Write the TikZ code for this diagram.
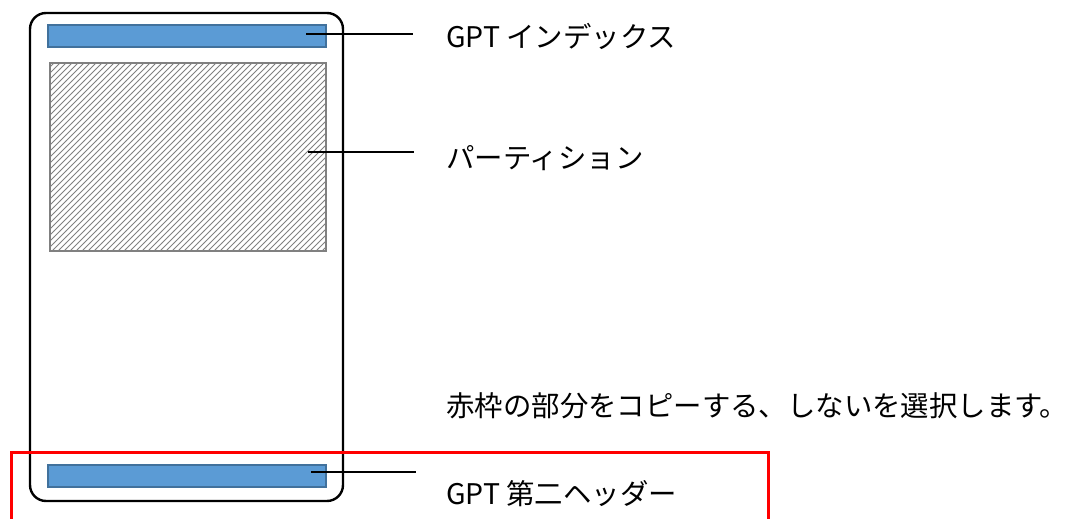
\documentclass[tikz,border=0pt]{standalone}
\usepackage{fontspec}
\setmainfont{Noto Sans CJK JP}
\usepackage{xcolor}
\usetikzlibrary{patterns}

\definecolor{barfill}{HTML}{5B9BD5}
\definecolor{barline}{HTML}{41719C}

\begin{document}
\begin{tikzpicture}[x=0.5pt,y=-0.5pt,
  bar/.style={rectangle, draw=barline, fill=barfill, line width=1pt, minimum width=139pt, minimum height=11pt, inner sep=0pt},
  part/.style={rectangle, draw=gray, line width=1pt, pattern=north east lines, pattern color=gray, minimum width=138pt, minimum height=94pt, inner sep=0pt},
  lbl/.style={anchor=west, inner sep=0pt, font=\fontsize{14.2pt}{16pt}\selectfont},
  callout/.style={draw=black, line width=0.6pt}]
\useasboundingbox (0,0) rectangle (1071,519);

\node[draw=black, line width=1.2pt, rounded corners=8pt, minimum width=156.5pt, minimum height=244pt](Disk) at (186.5,257) {};
\node[bar](Idx) at (187,36) {};
\node[part](Part) at (188,157) {};
\node[bar](Hdr) at (187,476) {};

\node[lbl](IdxL) at (446,36) {GPT インデックス};
\node[lbl](PartL) at (446,158) {パーティション};
\node[lbl](NoteL) at (446,406) {赤枠の部分をコピーする、しないを選択します。};
\node[lbl](HdrL) at (446,494) {GPT 第二ヘッダー};

\coordinate (IdxP) at (306,34);
\coordinate (IdxE) at (413,34);
	\draw[callout] (IdxP) -- (IdxE);
\coordinate (PartP) at (308,152);
\coordinate (PartE) at (414,152);
	\draw[callout] (PartP) -- (PartE);
\coordinate (HdrP) at (311,472);
\coordinate (HdrE) at (416,472);
	\draw[callout] (HdrP) -- (HdrE);

\draw[red, line width=1.5pt] (11,519) -- (11,452) -- (768,452) -- (768,519);
\end{tikzpicture}
\end{document}
